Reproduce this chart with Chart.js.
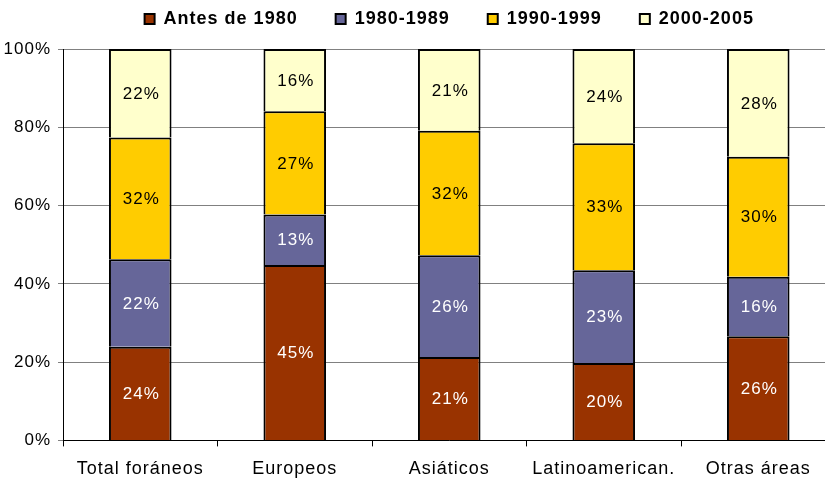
<!DOCTYPE html>
<html>
<head>
<meta charset="utf-8">
<script src="https://cdn.jsdelivr.net/npm/chart.js@4.4.1/dist/chart.umd.min.js"></script>
<style>
  html, body { margin: 0; padding: 0; background: #fff; overflow: hidden; }
  #wrap { position: absolute; left: 0; top: 0; width: 840px; height: 480px; }
</style>
</head>
<body>
<div id="wrap"><canvas id="periodChart"></canvas></div>
<script>
// categories and series (shares of each group)
var groups = ['Total foráneos', 'Europeos', 'Asiáticos', 'Latinoamerican.', 'Otras áreas'];
var seriesNames = ['Antes de 1980', '1980-1989', '1990-1999', '2000-2005'];

var antes1980 = [23.9, 44.8, 21.3, 19.8, 26.6];
var y1980s = [22.4, 12.9, 26.0, 23.7, 15.2];
var y1990s = [31.1, 26.4, 31.8, 32.4, 30.7];
var y2000s = [22.6, 15.9, 20.9, 24.1, 27.5];

// percent labels as printed on the bars
var antes1980Labels = [24, 45, 21, 20, 26];
var y1980sLabels = [22, 13, 26, 23, 16];
var y1990sLabels = [32, 27, 32, 33, 30];
var y2000sLabels = [22, 16, 21, 24, 28];

var yTicks = [0, 20, 40, 60, 80, 100];

var seriesColors = ['#993300', '#666699', '#FFCC00', '#FFFFCC'];
var labelColors = ['#fff', '#fff', '#000', '#000'];
var fontFamily = '"Liberation Sans", Arial, sans-serif';

Chart.defaults.font.family = fontFamily;
Chart.defaults.color = '#000';

// Excel spreads its letters a bit
var spacingPlugin = {
  id: 'spacing',
  beforeLayout: function (chart) { chart.ctx.letterSpacing = '1px'; },
  beforeDraw: function (chart) { chart.ctx.letterSpacing = '1px'; }
};

// percent labels in the middle of each segment
var barLabels = {
  id: 'barLabels',
  afterDatasetsDraw: function (chart) {
    var ctx = chart.ctx;
    ctx.save();
    ctx.letterSpacing = '1px';
    ctx.font = '17px ' + fontFamily;
    ctx.textAlign = 'center';
    ctx.textBaseline = 'middle';
    chart.data.datasets.forEach(function (ds, i) {
      var meta = chart.getDatasetMeta(i);
      meta.data.forEach(function (bar, j) {
        ctx.fillStyle = labelColors[i];
        ctx.fillText(ds.pctLabels[j] + '%', bar.x + 1, (bar.y + bar.base) / 2 + 1);
      });
    });
    ctx.restore();
  }
};

function makeSet(name, values, labels, idx) {
  return {
    label: name,
    data: values,
    pctLabels: labels,
    backgroundColor: seriesColors[idx],
    borderColor: '#000',
    borderWidth: 2,
    borderSkipped: 'start',
    barPercentage: 0.405,
    categoryPercentage: 1
  };
}

var ctx = document.getElementById('periodChart').getContext('2d');
var chart = new Chart(ctx, {
  type: 'bar',
  data: {
    labels: groups,
    datasets: [
      makeSet(seriesNames[0], antes1980, antes1980Labels, 0),
      makeSet(seriesNames[1], y1980s, y1980sLabels, 1),
      makeSet(seriesNames[2], y1990s, y1990sLabels, 2),
      makeSet(seriesNames[3], y2000s, y2000sLabels, 3)
    ]
  },
  options: {
    responsive: true,
    maintainAspectRatio: false,
    animation: false,
    layout: {
      padding: { top: -28, right: 4.5, bottom: -12, left: 0 }
    },
    plugins: {
      legend: {
        position: 'top',
        fullSize: false,
        labels: {
          boxWidth: 10,
          boxHeight: 10,
          padding: 38,
          color: '#000',
          font: { size: 18, weight: 'bold' }
        }
      },
      // empty title used as a spacer under the legend
      title: {
        display: true,
        text: ' ',
        weight: 500,
        padding: 0,
        font: { size: 11, lineHeight: 1 }
      },
      tooltip: { enabled: false }
    },
    scales: {
      x: {
        stacked: true,
        grid: {
          offset: true,
          drawOnChartArea: false,
          drawTicks: true,
          tickLength: 6,
          color: '#000'
        },
        border: { color: '#000', width: 1 },
        ticks: {
          autoSkip: false,
          maxRotation: 0,
          padding: 12,
          font: { size: 18 }
        }
      },
      y: {
        stacked: true,
        min: 0,
        max: 100,
        afterFit: function (scale) { scale.width = 63; },
        afterBuildTicks: function (scale) {
          scale.ticks = yTicks.map(function (v) { return { value: v }; });
        },
        grid: {
          color: '#808080',
          lineWidth: 1,
          tickLength: 5
        },
        border: { color: '#000', width: 1 },
        ticks: {
          padding: 7,
          font: { size: 17 },
          callback: function (value) { return value + '%'; }
        }
      }
    }
  },
  plugins: [spacingPlugin, barLabels]
});
</script>
</body>
</html>
